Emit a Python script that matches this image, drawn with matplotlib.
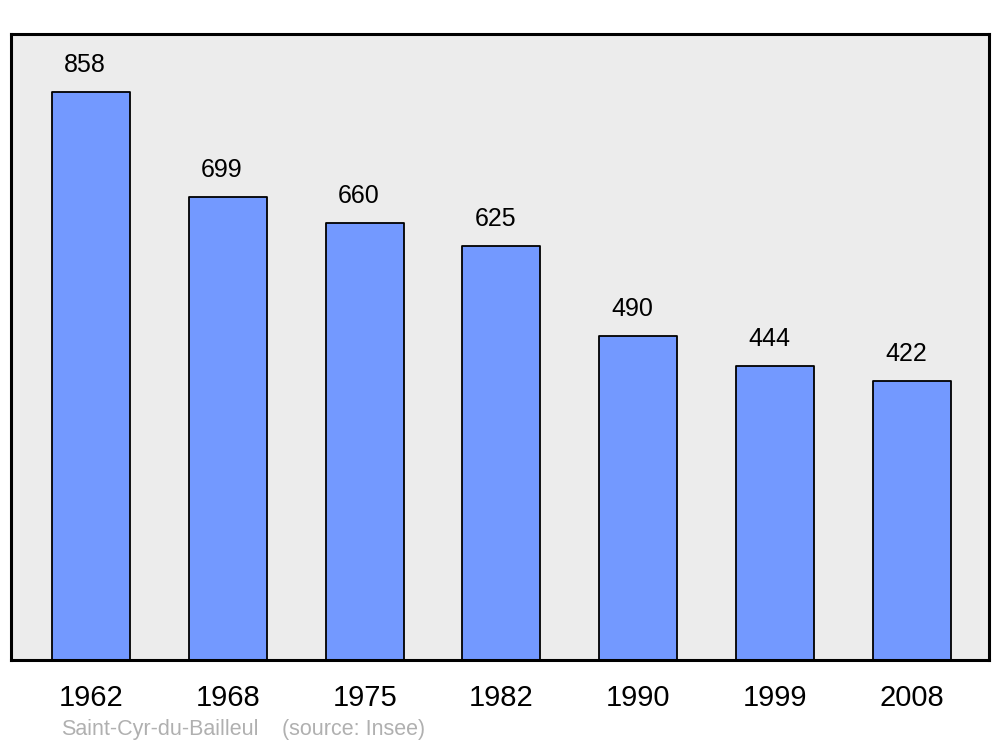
import matplotlib.pyplot as plt

plt.rcParams['font.family'] = ['Liberation Sans', 'DejaVu Sans']

years = ['1962', '1968', '1975', '1982', '1990', '1999', '2008']
population = [858, 699, 660, 625, 490, 444, 422]
town = 'Saint-Cyr-du-Bailleul'
source = '(source: Insee)'

fig = plt.figure(figsize=(10, 7.47), dpi=100)
ax = fig.add_axes([0.011, 1 - 660 / 747, 0.978, 626 / 747])
ax.set_facecolor('#ececec')

xs = range(len(years))
bars = ax.bar(xs, population, width=0.57, color='#7399ff',
              edgecolor='black', linewidth=1.3)
for b in bars:
    b.set_joinstyle('round')

# value labels sit a little left of the bar centre, as in the original
for x, v in zip(xs, population):
    ax.annotate(str(v), (x, v), xytext=(-6, 27), textcoords='offset pixels',
                ha='center', va='center', fontsize=18)

ax.set_xlim(-0.585, 6.564)
ax.set_ylim(0, 945.6)
ax.set_xticks(list(xs))
ax.set_xticklabels(years, fontsize=21)
ax.tick_params(axis='x', length=0, pad=17)
ax.set_yticks([])
for s in ax.spines.values():
    s.set_linewidth(2.2)
    s.set_joinstyle('round')

fig.text(61 / 1000, 1 - 730 / 747, town, fontsize=15.5, color='#b0b0b0',
         ha='left', va='center')
fig.text(282 / 1000, 1 - 730 / 747, source, fontsize=15.5, color='#b0b0b0',
         ha='left', va='center')

fig.savefig('out.png', dpi=100)
